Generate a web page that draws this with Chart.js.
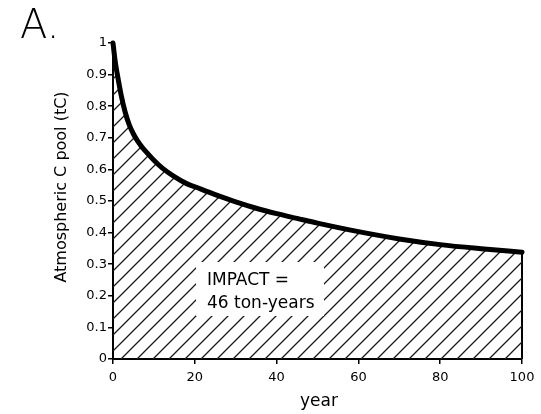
<!DOCTYPE html>
<html>
<head>
<meta charset="utf-8">
<script src="https://cdn.jsdelivr.net/npm/chart.js@4/dist/chart.umd.min.js"></script>
<style>
  html, body { margin: 0; padding: 0; background: #fff; }
  #wrap { width: 541px; height: 414px; position: relative; }
</style>
</head>
<body>
<div id="wrap"><canvas id="c" width="541" height="414"></canvas></div>
<script>
// ---- data ----
const years = [0, 0.5, 1, 2, 3, 4, 5, 6, 7, 8, 10, 12, 15, 18, 20, 25, 30, 35, 40, 45, 50, 60, 70, 80, 90, 100];
const pool  = [1.0, 0.945, 0.905, 0.835, 0.78, 0.74, 0.712, 0.69, 0.672, 0.657, 0.629, 0.605, 0.577, 0.555, 0.545, 0.52, 0.497, 0.477, 0.46, 0.445, 0.43, 0.403, 0.38, 0.362, 0.349, 0.338];
const xTicks = [0, 20, 40, 60, 80, 100];
const yTicks = [0, 0.1, 0.2, 0.3, 0.4, 0.5, 0.6, 0.7, 0.8, 0.9, 1];
const panelLabel = 'A.';
const xTitle = 'year';
const yTitle = 'Atmospheric C pool (tC)';
const impactLines = ['IMPACT =', '46 ton-years'];

const FONT = "'DejaVu Sans', sans-serif";

// hatch pattern
function makeHatch() {
  const s = 16;
  const c = document.createElement('canvas');
  c.width = s; c.height = s;
  const g = c.getContext('2d');
  g.strokeStyle = '#1a1a1a';
  g.lineWidth = 1.3;
  g.beginPath();
  g.moveTo(0, s); g.lineTo(s, 0);
  g.moveTo(-3, 3); g.lineTo(3, -3);
  g.moveTo(s - 3, s + 3); g.lineTo(s + 3, s - 3);
  g.stroke();
  return document.getElementById('c').getContext('2d').createPattern(c, 'repeat');
}

const curve = years.map((x, i) => ({ x: x, y: pool[i] }));
const lastX = years[years.length - 1];
const lastY = pool[pool.length - 1];
const edge = [{ x: lastX, y: 0 }, { x: lastX, y: lastY }];

const annotate = {
  id: 'annotate',
  afterDatasetsDraw(chart) {
    const { ctx } = chart;
    ctx.save();
    ctx.fillStyle = '#fff';
    ctx.fillRect(196, 262, 128, 54);
    ctx.fillStyle = '#000';
    ctx.font = '17px ' + FONT;
    ctx.textBaseline = 'alphabetic';
    ctx.textAlign = 'left';
    ctx.fillText(impactLines[0], 207, 285);
    ctx.fillText(impactLines[1], 207, 308);
    ctx.restore();
  },
  afterDraw(chart) {
    const { ctx } = chart;
    ctx.save();
    ctx.fillStyle = '#000';
    ctx.font = '200 40px ' + FONT;
    ctx.textAlign = 'left';
    ctx.textBaseline = 'alphabetic';
    ctx.fillText(panelLabel, 20, 38);
    ctx.font = '17px ' + FONT;
    ctx.textAlign = 'center';
    ctx.textBaseline = 'middle';
    ctx.fillText(xTitle, 319, 402);
    ctx.translate(62, 187);
    ctx.rotate(-Math.PI / 2);
    ctx.font = '16px ' + FONT;
    ctx.fillText(yTitle, 0, 0);
    ctx.restore();
  }
};

new Chart(document.getElementById('c'), {
  type: 'line',
  data: {
    datasets: [
      {
        data: curve,
        borderColor: '#000',
        borderWidth: 5,
        borderCapStyle: 'round',
        borderJoinStyle: 'round',
        pointRadius: 0,
        cubicInterpolationMode: 'monotone',
        fill: 'origin',
        backgroundColor: makeHatch(),
        clip: false
      },
      {
        data: edge,
        borderColor: '#000',
        borderWidth: 2,
        pointRadius: 0,
        fill: false,
        clip: false
      }
    ]
  },
  options: {
    responsive: false,
    animation: false,
    devicePixelRatio: 1,
    layout: { padding: { left: 0, top: 43, right: 19, bottom: 0 } },
    plugins: { legend: { display: false }, tooltip: { enabled: false }, title: { display: false } },
    scales: {
      x: {
        type: 'linear',
        min: 0, max: 100,
        afterFit(s) { s.height = 55; },
        afterBuildTicks(s) { s.ticks = xTicks.map(v => ({ value: v })); },
        ticks: { color: '#000', font: { family: FONT, size: 13 }, padding: 6, maxRotation: 0 },
        grid: { display: true, drawOnChartArea: false, drawTicks: true, tickLength: 5, color: '#000', lineWidth: 1.5 },
        border: { display: true, color: '#000', width: 2 }
      },
      y: {
        min: 0, max: 1,
        afterFit(s) { s.width = 113; },
        afterBuildTicks(s) { s.ticks = yTicks.map(v => ({ value: v })); },
        ticks: {
          color: '#000', font: { family: FONT, size: 13 }, padding: 1,
          callback: v => (v === 0 ? '0' : v === 1 ? '1' : v.toFixed(1))
        },
        grid: { display: true, drawOnChartArea: false, drawTicks: true, tickLength: 5, color: '#000', lineWidth: 1.5 },
        border: { display: true, color: '#000', width: 2 }
      }
    }
  },
  plugins: [annotate]
});
</script>
</body>
</html>
